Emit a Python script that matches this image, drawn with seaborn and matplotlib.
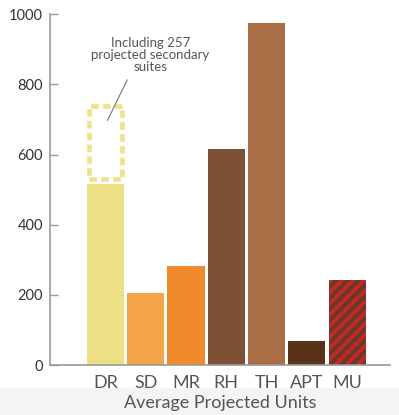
import pandas as pd
import matplotlib.pyplot as plt
import seaborn as sns

# Average projected units by housing type
categories = ["DR", "SD", "MR", "RH", "TH", "APT", "MU"]
units = [515, 205, 282, 615, 974, 68, 242]
bar_colors = ["#EDE084", "#F2A446", "#F08A2C", "#7B5035", "#A96E46", "#5A3219", "#6B3A22"]
dr_with_suites = 745  # top of the dashed DR box (incl. 257 secondary suites)
y_ticks = [0, 200, 400, 600, 800, 1000]

TEXT = "#555555"
AXIS = "#9a9a9a"


def plot_projected_units(save_path):
    sns.set_style("white")
    plt.rcParams["font.family"] = ["Lato", "DejaVu Sans"]
    plt.rcParams["hatch.linewidth"] = 2.6

    df = pd.DataFrame({"type": categories, "units": units})

    fig = plt.figure(figsize=(3.99, 4.15), dpi=100)
    # light grey band along the bottom edge
    fig.patches.append(plt.Rectangle((0, 0), 1, 0.065, transform=fig.transFigure,
                                     facecolor="#f4f4f4", edgecolor="none", zorder=-1))
    ax = fig.add_axes([0.125, 0.12, 0.852, 0.846])
    ax.set_facecolor("none")

    sns.barplot(data=df, x="type", y="units", hue="type", palette=bar_colors,
                saturation=1, width=0.92, legend=False, ax=ax, linewidth=0)

    # mixed use bar: red stripes on brown
    mu = ax.patches[categories.index("MU")]
    mu.set_hatch("///")
    mu.set_edgecolor("#C8262B")
    mu.set_linewidth(0)

    # dashed box for secondary suites on top of DR
    gap = 8
    ax.bar(0, dr_with_suites - units[0] - 2 * gap - 6, bottom=units[0] + gap + 6,
           width=0.82, fill=False, edgecolor="#EFE389", linewidth=3.4,
           linestyle=(0, (1.6, 0.9)))

    ax.text(1.12, 884, "Including 257\nprojected secondary\nsuites", ha="center",
            va="center", fontsize=9.5, color=TEXT, linespacing=1.0)
    ax.annotate("", xy=(0.02, 690), xytext=(0.57, 820),
                arrowprops=dict(arrowstyle="-", color="#777777", lw=0.8))

    ax.set_xlim(-1.38, 7.06)
    ax.set_ylim(0, 1000)
    ax.set_yticks(y_ticks)
    ax.set_xlabel("Average Projected Units", fontsize=13, color=TEXT, labelpad=3)
    ax.set_ylabel("")
    ax.tick_params(axis="y", direction="in", length=6, width=1, color=AXIS,
                   labelsize=10.5, labelcolor="#333333", pad=5, left=True)
    ax.tick_params(axis="x", length=0, labelsize=13, labelcolor=TEXT, pad=7)
    sns.despine(ax=ax)
    for side in ["left", "bottom"]:
        ax.spines[side].set_color(AXIS)
        ax.spines[side].set_linewidth(1.2)

    plt.savefig(save_path, dpi=100)


if __name__ == "__main__":
    plot_projected_units("out.png")
